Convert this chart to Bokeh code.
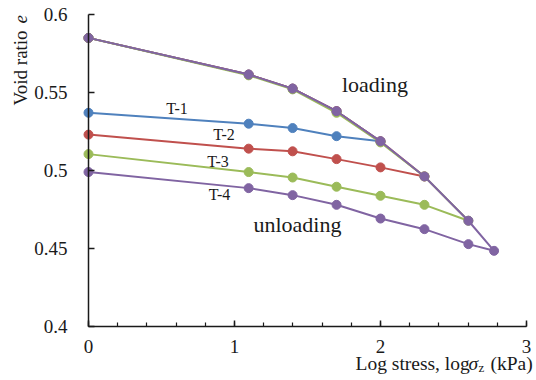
from math import pi

from bokeh.embed import file_html
from bokeh.models import Label, Range1d, FixedTicker, SingleIntervalTicker
from bokeh.plotting import figure
from bokeh.resources import INLINE

# Log of vertical stress (kPa): 1, 12.5, 25, 50, 100, 200, 400, 600
log_stress = [0.0, 1.097, 1.398, 1.699, 2.0, 2.301, 2.602, 2.778]

# Loading branch (void ratio) for each test, up to its maximum stress
load_t1 = [0.585, 0.5615, 0.5525, 0.538, 0.5187]
load_t2 = [0.585, 0.5615, 0.5525, 0.538, 0.5187, 0.4962]
load_t3 = [0.585, 0.561, 0.552, 0.537, 0.518, 0.4962, 0.4678]
load_t4 = [0.585, 0.5615, 0.5525, 0.538, 0.5187, 0.4962, 0.4678, 0.4485]

# Unloading branch (void ratio) at the lower stresses, from 1 kPa upward
unload_t1 = [0.537, 0.530, 0.5272, 0.522]
unload_t2 = [0.523, 0.514, 0.5123, 0.5073, 0.502]
unload_t3 = [0.5105, 0.499, 0.4955, 0.4896, 0.4838, 0.478]
unload_t4 = [0.499, 0.4887, 0.4842, 0.478, 0.4692, 0.4624, 0.4528]

names = ["T-1", "T-2", "T-3", "T-4"]
colors = ["#4F81BD", "#C0504D", "#9BBB59", "#8064A2"]
loads = [load_t1, load_t2, load_t3, load_t4]
unloads = [unload_t1, unload_t2, unload_t3, unload_t4]

x_lo, x_hi = 0.0, 3.0
y_lo, y_hi = 0.4, 0.6
y_ticks = [0.4, 0.45, 0.5, 0.55, 0.6]
y_tick_text = ["0.4", "0.45", "0.5", "0.55", "0.6"]

FONT = "Liberation Serif"
INK = "#1a1a1a"

W, H = 536, 380
# pixel margins around the axes box; the frame spans the whole canvas so
# that the axis titles can sit in the margins
ML, MR, MT, MB = 88, 10, 14, 54
px_x = (x_hi - x_lo) / (W - ML - MR)
px_y = (y_hi - y_lo) / (H - MT - MB)

p = figure(
    width=W, height=H,
    x_range=Range1d(x_lo - ML * px_x, x_hi + MR * px_x),
    y_range=Range1d(y_lo - MB * px_y, y_hi + MT * px_y),
    output_backend="svg", toolbar_location=None,
    min_border=0,
)
p.outline_line_color = None
p.xgrid.visible = False
p.ygrid.visible = False
p.background_fill_color = "white"
p.border_fill_color = "white"

# Each test: one polyline going out along loading and back along unloading
for load, unload, color in zip(loads, unloads, colors):
    n = len(load)
    xs = log_stress[:n] + log_stress[:n - 1][::-1]
    ys = load + unload[::-1]
    p.line(xs, ys, line_color=color, line_width=2)
    p.scatter(xs, ys, size=9, fill_color=color, line_color=color)

# Axes, pinned to the corner of the axes box
for ax in (p.xaxis[0], p.yaxis[0]):
    ax.axis_line_color = INK
    ax.axis_line_width = 1.5
    ax.major_tick_line_color = INK
    ax.major_tick_line_width = 1.5
    ax.major_tick_in = 6
    ax.major_tick_out = 0
    ax.minor_tick_in = 4
    ax.minor_tick_out = 0
    ax.minor_tick_line_color = INK
    ax.minor_tick_line_width = 1.2
    ax.major_label_text_font = FONT
    ax.major_label_text_font_size = "19px"
    ax.major_label_text_color = INK

p.xaxis.fixed_location = y_lo
p.xaxis.bounds = (x_lo, x_hi)
p.xaxis.ticker = SingleIntervalTicker(interval=1, num_minor_ticks=5)
p.xaxis.major_label_standoff = 13

p.yaxis.fixed_location = x_lo
p.yaxis.bounds = (y_lo, y_hi)
p.yaxis.ticker = FixedTicker(ticks=y_ticks)
p.yaxis.major_label_overrides = dict(zip(y_ticks, y_tick_text))
p.yaxis.minor_tick_line_color = None
p.yaxis.major_label_standoff = 21

# Series names next to the unloading branches
name_pos = [(0.606, 0.5399), (0.928, 0.5232), (0.887, 0.5056), (0.897, 0.4844)]
for name, (nx, ny) in zip(names, name_pos):
    p.add_layout(Label(x=nx, y=ny, text=name, text_font=FONT,
                       text_font_size="16px", text_color=INK,
                       text_align="center", text_baseline="middle"))

p.add_layout(Label(x=1.736, y=0.5549, text="loading", text_font=FONT,
                   text_font_size="22px", text_color=INK,
                   text_align="left", text_baseline="alphabetic"))
p.add_layout(Label(x=1.130, y=0.4651, text="unloading", text_font=FONT,
                   text_font_size="22px", text_color=INK,
                   text_align="left", text_baseline="alphabetic"))

# Axis titles built from pieces (italic symbols, subscript)
def screen_label(x, y, text, size="19px", style="normal", angle=0.0):
    return Label(x=x, y=y, x_units="screen", y_units="screen", text=text,
                 text_font=FONT, text_font_size=size, text_font_style=style,
                 text_color=INK, text_align="left",
                 text_baseline="alphabetic", angle=angle)

p.add_layout(screen_label(20, 275, "Void ratio", angle=pi / 2))
p.add_layout(screen_label(20, 357, "e", style="italic", angle=pi / 2))

p.add_layout(screen_label(355, 17, "Log stress, log", size="19.5px"))
p.add_layout(screen_label(468, 17, "\u03c3", size="19.5px", style="italic"))
p.add_layout(screen_label(478, 13, "z", size="13px"))
p.add_layout(screen_label(490, 17, "(kPa)", size="19.5px"))

open("out.html", "w").write(file_html(p, INLINE))
